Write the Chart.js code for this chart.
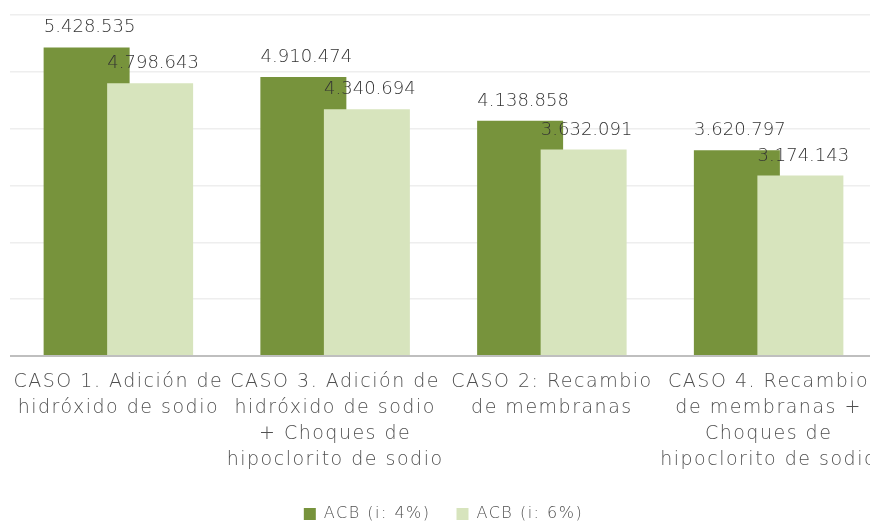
<!DOCTYPE html>
<html lang="es">
<head>
    <meta charset="UTF-8">
    <title>ACB por caso</title>
    <style>
        body {
            margin: 0;
            background-color: #fff;
            overflow: hidden;
        }
        #chart-container {
            width: 877px;
            height: 522px;
        }
    </style>
    <script src="https://cdn.jsdelivr.net/npm/chart.js"></script>
</head>
<body>

<div id="chart-container">
    <canvas id="acbChart"></canvas>
</div>

<script>
// Data
const categories = [
    ["CASO 1. Adición de", "hidróxido de sodio"],
    ["CASO 3. Adición de", "hidróxido de sodio", "+ Choques de", "hipoclorito de sodio"],
    ["CASO 2: Recambio", "de membranas"],
    ["CASO 4. Recambio", "de membranas +", "Choques de", "hipoclorito de sodio"]
];
const seriesNames = ["ACB (i: 4%)", "ACB (i: 6%)"];
const acb4 = [5428535, 4910474, 4138858, 3620797];
const acb6 = [4798643, 4340694, 3632091, 3174143];
const yMax = 6000000;
const yStep = 1000000;

// Spanish style thousands separator: 5.428.535
function formatValue(v) {
    return String(v).replace(/\B(?=(\d{3})+(?!\d))/g, ".");
}

// Wider letter spacing, closer to the original's Century Gothic look
const spacingPlugin = {
    id: 'spacing',
    beforeLayout(chart) { chart.ctx.letterSpacing = '1.5px'; },
    afterLayout(chart) {
        // push the legend down towards the bottom edge
        chart.legend.top += 10;
        chart.legend.bottom += 10;
    },
    beforeDraw(chart) { chart.ctx.letterSpacing = '1.5px'; }
};

// Light bars sit over the dark ones: draw dataset 0 first
const drawOrder = {
    id: 'drawOrder',
    beforeDatasetDraw(chart, args) {
        if (args.index === 1) {
            chart.getDatasetMeta(0).controller.draw();
        }
        if (args.index === 0) return false;
    }
};

// Value labels above each bar
const valueLabels = {
    id: 'valueLabels',
    afterDatasetsDraw(chart) {
        const ctx = chart.ctx;
        ctx.save();
        ctx.letterSpacing = '0px';
        ctx.font = '300 18px "DejaVu Sans"';
        ctx.fillStyle = '#333333';
        ctx.textAlign = 'center';
        ctx.textBaseline = 'alphabetic';
        chart.data.datasets.forEach((ds, i) => {
            chart.getDatasetMeta(i).data.forEach((bar, j) => {
                ctx.fillText(formatValue(ds.data[j]), bar.x + 3, bar.y - 15);
            });
        });
        ctx.restore();
    }
};

const ctx = document.getElementById('acbChart').getContext('2d');
const acbChart = new Chart(ctx, {
    type: 'bar',
    data: {
        labels: categories,
        datasets: [{
            label: seriesNames[0],
            data: acb4,
            backgroundColor: '#77933C',
            categoryPercentage: 0.586,
            barPercentage: 1.354
        }, {
            label: seriesNames[1],
            data: acb6,
            backgroundColor: '#D7E4BD',
            categoryPercentage: 0.586,
            barPercentage: 1.354
        }]
    },
    options: {
        responsive: true,
        maintainAspectRatio: false,
        animation: false,
        layout: {
            padding: { left: 10, right: 0, top: 15, bottom: 0 }
        },
        scales: {
            x: {
                grid: { display: false, drawTicks: false },
                border: { display: false },
                afterFit(scale) {
                    scale.paddingLeft = 0;
                    scale.paddingRight = 0;
                    scale.height -= 16;
                },
                ticks: {
                    autoSkip: false,
                    maxRotation: 0,
                    minRotation: 0,
                    padding: 13,
                    color: '#505050',
                    font: { family: 'DejaVu Sans', size: 19, weight: '300', lineHeight: 1.37 }
                }
            },
            y: {
                min: 0,
                max: yMax,
                ticks: { display: false, stepSize: yStep },
                border: { display: false },
                grid: {
                    drawTicks: false,
                    color: (c) => c.tick && c.tick.value === 0 ? '#bfbfbf' : '#eeeeee',
                    lineWidth: (c) => c.tick && c.tick.value === 0 ? 2 : 1.5
                }
            }
        },
        plugins: {
            legend: {
                position: 'bottom',
                labels: {
                    boxWidth: 12,
                    boxHeight: 12,
                    padding: 26,
                    color: '#505050',
                    font: { family: 'DejaVu Sans', size: 16, weight: '300' }
                }
            },
            tooltip: { enabled: false }
        }
    },
    plugins: [spacingPlugin, drawOrder, valueLabels]
});
</script>

</body>
</html>
